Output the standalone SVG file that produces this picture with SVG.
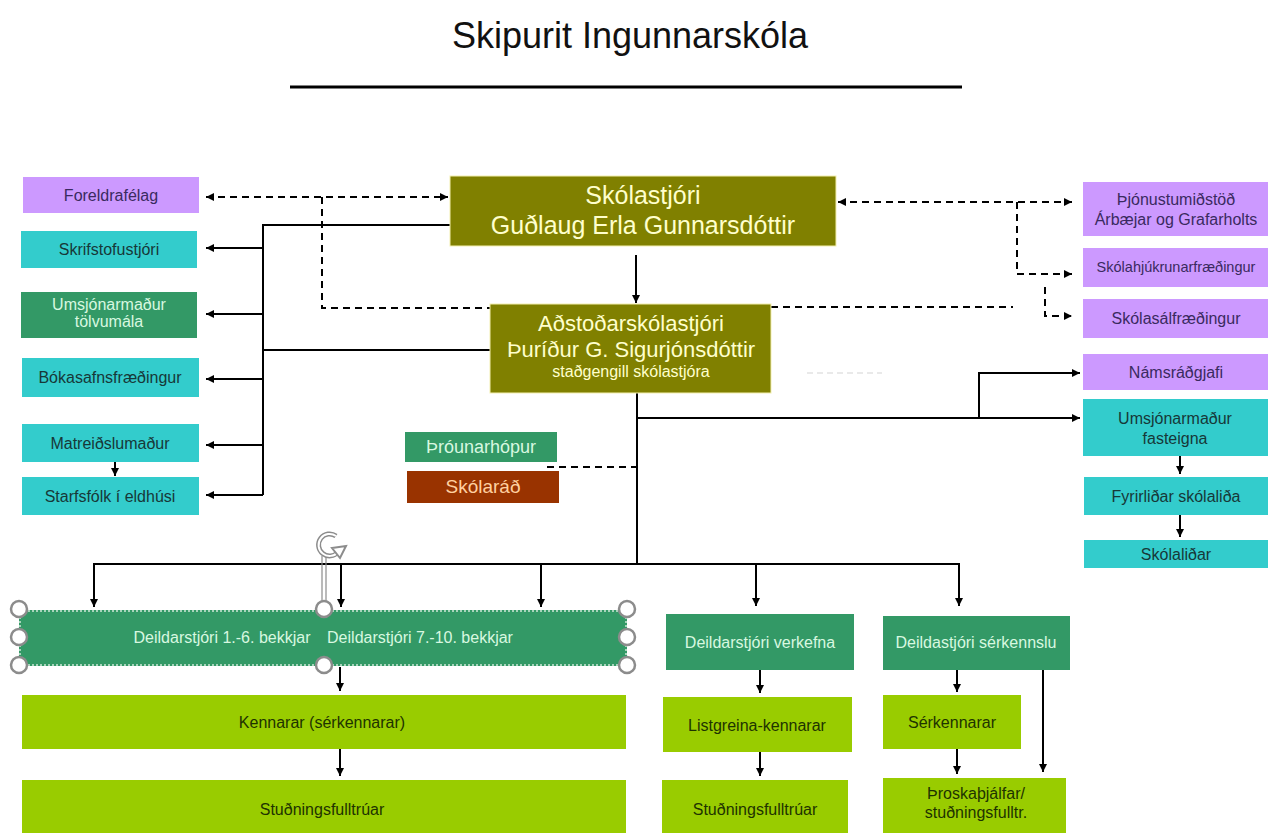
<svg xmlns="http://www.w3.org/2000/svg" width="1273" height="833" viewBox="0 0 1273 833">
<defs>
<marker id="arr" markerUnits="userSpaceOnUse" markerWidth="9" markerHeight="9" refX="8" refY="4" orient="auto-start-reverse">
<path d="M0,0 L8,4 L0,8 z" fill="#000"/>
</marker>
</defs>
<style>
text{font-family:"Liberation Sans",Arial,sans-serif;text-anchor:middle}
.t16{font-size:16px}
.lav{fill:#CC99FF}
.tur{fill:#33CCCC}
.grn{fill:#339966}
.oli{fill:#808000;stroke:#f4f0b0;stroke-width:1}
.lim{fill:#99CC00}
.tlav{fill:#3a2a60}
.ttur{fill:#173838}
.tgrn{fill:#d8f8e0}
.toli{fill:#ffffcc}
.tlim{fill:#1e3300}
.ln{fill:none;stroke:#000;stroke-width:2}
.dsh{fill:none;stroke:#000;stroke-width:2;stroke-dasharray:7 5}
.handle{fill:#fff;stroke:#8c8c8c;stroke-width:2.5}
</style>
<rect width="1273" height="833" fill="#fff"/>

<g id="title">
<text x="630" y="48" style="font-size:36px" fill="#111">Skipurit Ingunnarskóla</text>
<line x1="290" y1="87" x2="962" y2="87" stroke="#000" stroke-width="3"/>
</g>

<g id="connectors">
<path class="ln" d="M450,225 H263 V495"/>
<path class="ln" d="M263,248 H206" marker-end="url(#arr)"/>
<path class="ln" d="M263,314 H206" marker-end="url(#arr)"/>
<path class="ln" d="M263,379 H206" marker-end="url(#arr)"/>
<path class="ln" d="M263,445 H206" marker-end="url(#arr)"/>
<path class="ln" d="M263,495 H206" marker-end="url(#arr)"/>
<path class="ln" d="M490,350 H263"/>
<path class="ln" d="M115,462 V476" marker-end="url(#arr)"/>
<path class="dsh" d="M206,197 H448" marker-start="url(#arr)" marker-end="url(#arr)"/>
<path class="dsh" d="M322,197 V308 H490"/>
<path class="dsh" d="M838,202 H1072" marker-start="url(#arr)" marker-end="url(#arr)"/>
<path class="dsh" d="M1017,202 V274 H1072" marker-end="url(#arr)"/>
<path class="dsh" d="M771,307 H1013"/>
<path class="dsh" d="M1045,287 V316 H1072" marker-end="url(#arr)"/>
<path class="ln" d="M636,255 V303" marker-end="url(#arr)"/>
<path class="ln" d="M637,393 V564"/>
<path class="ln" d="M637,418 H1080" marker-end="url(#arr)"/>
<path class="ln" d="M979,418 V373 H1080" marker-end="url(#arr)"/>
<path class="dsh" d="M547,467 H637"/>
<path class="ln" d="M94,607 V564 H959 V606" marker-start="url(#arr)" marker-end="url(#arr)"/>
<path class="ln" d="M341,564 V607" marker-end="url(#arr)"/>
<path class="ln" d="M541,564 V607" marker-end="url(#arr)"/>
<path class="ln" d="M756,564 V606" marker-end="url(#arr)"/>
<path class="ln" d="M340,667 V691" marker-end="url(#arr)"/>
<path class="ln" d="M340,749 V776" marker-end="url(#arr)"/>
<path class="ln" d="M760,670 V693" marker-end="url(#arr)"/>
<path class="ln" d="M760,752 V776" marker-end="url(#arr)"/>
<path class="ln" d="M957,670 V692" marker-end="url(#arr)"/>
<path class="ln" d="M957,749 V774" marker-end="url(#arr)"/>
<path class="ln" d="M1043,670 V772" marker-end="url(#arr)"/>
<path class="ln" d="M1180,456 V474" marker-end="url(#arr)"/>
<path class="ln" d="M1180,515 V537" marker-end="url(#arr)"/>
<path d="M807,373 H882" stroke="#e2e2e2" stroke-width="1.5" stroke-dasharray="6 4" fill="none"/>
</g>

<g id="foreldrafelag"><rect class="lav" x="23" y="177" width="176" height="36"/><text class="t16 tlav" x="111" y="201">Foreldrafélag</text></g>
<g id="skrifstofustjori"><rect class="tur" x="21" y="231" width="176" height="37"/><text class="t16 ttur" x="109" y="255">Skrifstofustjóri</text></g>
<g id="umsjon-tolvumala"><rect class="grn" x="21" y="292" width="176" height="46"/><text class="t16 tgrn" x="109" y="310">Umsjónarmaður</text><text class="t16 tgrn" x="109" y="327">tölvumála</text></g>
<g id="bokasafn"><rect class="tur" x="22" y="358" width="177" height="39"/><text class="t16 ttur" x="110" y="383">Bókasafnsfræðingur</text></g>
<g id="matreidslumadur"><rect class="tur" x="22" y="424" width="177" height="38"/><text class="t16 ttur" x="110" y="449">Matreiðslumaður</text></g>
<g id="starfsfolk-eldhusi"><rect class="tur" x="22" y="477" width="177" height="38"/><text class="t16 ttur" x="110" y="502">Starfsfólk í eldhúsi</text></g>

<g id="skolastjori"><rect class="oli" x="450" y="176" width="386" height="70"/><text class="toli" x="643" y="204" style="font-size:25px">Skólastjóri</text><text class="toli" x="643" y="234" style="font-size:25px">Guðlaug Erla Gunnarsdóttir</text></g>
<g id="adstodarskolastjori"><rect class="oli" x="490" y="304" width="281" height="89"/><text class="toli" x="631" y="331" style="font-size:22px">Aðstoðarskólastjóri</text><text class="toli" x="631" y="357" style="font-size:22px">Þuríður G. Sigurjónsdóttir</text><text class="toli" x="631" y="377" style="font-size:16px">staðgengill skólastjóra</text></g>

<g id="throunarhopur"><rect class="grn" x="405" y="432" width="152" height="30"/><text class="tgrn" x="481" y="453" style="font-size:18px">Þróunarhópur</text></g>
<g id="skolarad"><rect x="407" y="471" width="152" height="32" fill="#993300"/><text x="483" y="493" style="font-size:19px" fill="#ffd0a0">Skólaráð</text></g>

<g id="thjonustumidstod"><rect class="lav" x="1083" y="182" width="185" height="54"/><text class="t16 tlav" x="1176" y="205">Þjónustumiðstöð</text><text class="t16 tlav" x="1176" y="225">Árbæjar og Grafarholts</text></g>
<g id="skolahjukrun"><rect class="lav" x="1083" y="248" width="185" height="39"/><text class="tlav" x="1176" y="272" style="font-size:14.5px">Skólahjúkrunarfræðingur</text></g>
<g id="skolasalfraedingur"><rect class="lav" x="1083" y="299" width="185" height="39"/><text class="t16 tlav" x="1176" y="324">Skólasálfræðingur</text></g>
<g id="namsradgjafi"><rect class="lav" x="1083" y="354" width="185" height="36"/><text class="t16 tlav" x="1176" y="378">Námsráðgjafi</text></g>
<g id="umsjon-fasteigna"><rect class="tur" x="1083" y="399" width="185" height="57"/><text class="t16 ttur" x="1175" y="424">Umsjónarmaður</text><text class="t16 ttur" x="1175" y="444">fasteigna</text></g>
<g id="fyrirlidar"><rect class="tur" x="1084" y="477" width="184" height="38"/><text class="t16 ttur" x="1176" y="502">Fyrirliðar skólaliða</text></g>
<g id="skolalidar"><rect class="tur" x="1084" y="540" width="184" height="28"/><text class="t16 ttur" x="1176" y="560">Skólaliðar</text></g>

<g id="deildarstjorar-bekkja">
<rect class="grn" x="19" y="610" width="608" height="56"/>
<rect x="20" y="611" width="606" height="54" fill="none" stroke="#cfe8d8" stroke-width="1.5" stroke-dasharray="2 2"/>
<text class="t16 tgrn" x="222" y="643">Deildarstjóri 1.-6. bekkjar</text>
<text class="t16 tgrn" x="420" y="643">Deildarstjóri 7.-10. bekkjar</text>
</g>
<g id="selection-handles">
<line x1="322" y1="556" x2="322" y2="601" stroke="#8c8c8c" stroke-width="1.2"/>
<line x1="326" y1="556" x2="326" y2="601" stroke="#8c8c8c" stroke-width="1.2"/>
<path d="M336,536 A11,11 0 1 0 338,552" fill="none" stroke="#8c8c8c" stroke-width="5"/>
<path d="M336,536 A11,11 0 1 0 338,552" fill="none" stroke="#fff" stroke-width="2"/>
<path d="M332,548 L346,546 L340,558 z" fill="#fff" stroke="#8c8c8c" stroke-width="2"/>
<circle class="handle" cx="19" cy="609" r="8"/>
<circle class="handle" cx="324" cy="609" r="8"/>
<circle class="handle" cx="627" cy="609" r="8"/>
<circle class="handle" cx="19" cy="637" r="8"/>
<circle class="handle" cx="627" cy="637" r="8"/>
<circle class="handle" cx="19" cy="665" r="8"/>
<circle class="handle" cx="324" cy="665" r="8"/>
<circle class="handle" cx="627" cy="665" r="8"/>
</g>

<g id="deildarstjori-verkefna"><rect class="grn" x="666" y="614" width="188" height="56"/><text class="t16 tgrn" x="760" y="648">Deildarstjóri verkefna</text></g>
<g id="deildastjori-serkennslu"><rect class="grn" x="883" y="616" width="187" height="54"/><text class="t16 tgrn" x="976" y="648">Deildastjóri sérkennslu</text></g>

<g id="kennarar"><rect class="lim" x="22" y="695" width="604" height="54"/><text class="t16 tlim" x="322" y="728">Kennarar (sérkennarar)</text></g>
<g id="studningsfulltruar-1"><rect class="lim" x="22" y="780" width="604" height="60"/><text class="t16 tlim" x="322" y="815">Stuðningsfulltrúar</text></g>
<g id="listgreinakennarar"><rect class="lim" x="663" y="697" width="189" height="55"/><text class="t16 tlim" x="757" y="731">Listgreina-kennarar</text></g>
<g id="studningsfulltruar-2"><rect class="lim" x="662" y="780" width="186" height="60"/><text class="t16 tlim" x="755" y="815">Stuðningsfulltrúar</text></g>
<g id="serkennarar"><rect class="lim" x="883" y="695" width="138" height="54"/><text class="t16 tlim" x="952" y="728">Sérkennarar</text></g>
<g id="throskathjalfar"><rect class="lim" x="883" y="778" width="183" height="62"/><text class="t16 tlim" x="976" y="799">Þroskaþjálfar/</text><text class="t16 tlim" x="976" y="818">stuðningsfulltr.</text></g>
</svg>
